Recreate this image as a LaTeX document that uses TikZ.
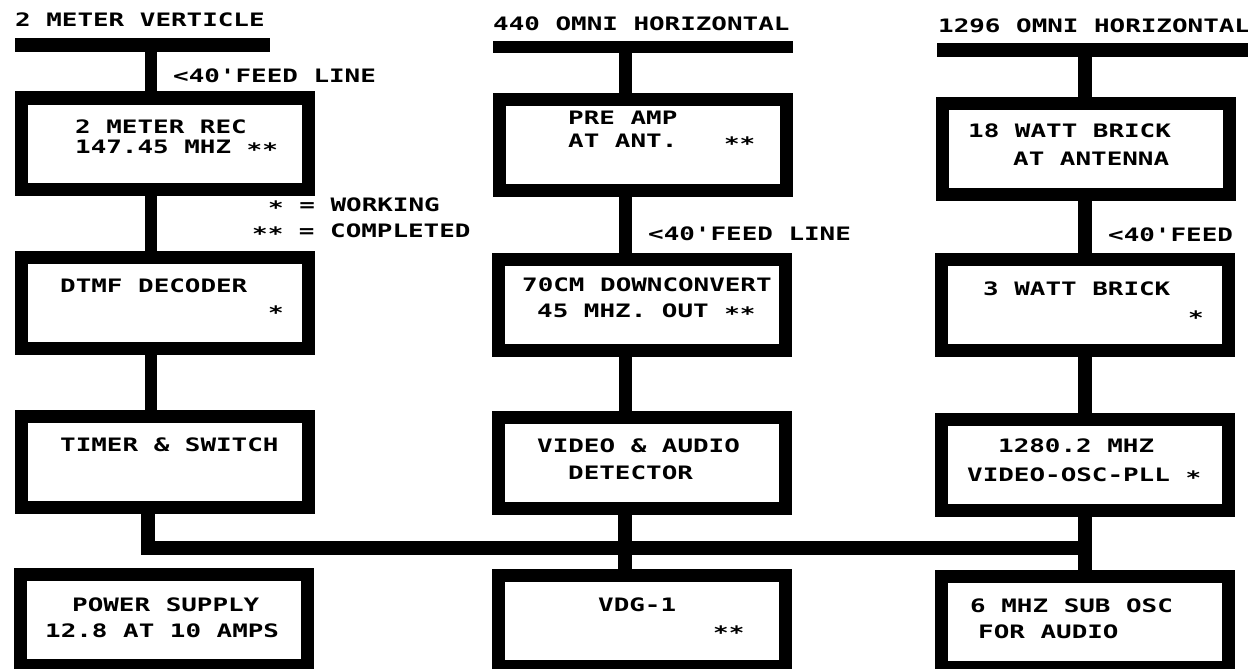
\documentclass[tikz,border=0pt]{standalone}
\usepackage{fontspec}
\newfontfamily\plotfont[FakeStretch=1.4]{DejaVu Sans Mono}
\usetikzlibrary{calc}
\newcommand{\stq}{\raisebox{-3.5pt}{*}}
\begin{document}
\frenchspacing
\begin{tikzpicture}[x=1pt,y=-1pt,
  blk/.style={draw=black, line width=13pt, minimum width=287pt, minimum height=91pt, inner sep=0pt, fill=white},
  lbl/.style={anchor=base west, inner sep=0pt, font=\plotfont\bfseries\fontsize{18.5}{22}\selectfont},
  wire/.style={line width=12pt, draw=black},
  bar/.style={line width=13pt, draw=black}]
\useasboundingbox[fill=white] (0,0) rectangle (1248,669);

% boxes
\node[blk] (L1) at (165,143.5) {};
\node[blk] (L2) at (165,302.5) {};
\node[blk] (L3) at (165,461.5) {};
\node[blk] (L4) at (164,620) {};
\node[blk] (M1) at (642.5,145) {};
\node[blk] (M2) at (642,304.5) {};
\node[blk] (M3) at (641.5,462.5) {};
\node[blk] (M4) at (641.5,621) {};
\node[blk] (R1) at (1085.5,148.5) {};
\node[blk] (R2) at (1085,305) {};
\node[blk] (R3) at (1085,464.5) {};
\node[blk] (R4) at (1085,622) {};

% column axes
\coordinate (cL) at (151,0);
\coordinate (cM) at (625,0);
\coordinate (cR) at (1085,0);

% antenna bars
\coordinate (aL1) at (15,45);   \coordinate (aL2) at (270,45);
\coordinate (aM1) at (493,47.5); \coordinate (aM2) at (793,47.5);
\coordinate (aR1) at (937,50);  \coordinate (aR2) at (1252,50);
\draw[bar, line width=14pt] (aL1) -- (aL2);
\draw[bar, line width=12pt] (aM1) -- (aM2);
\draw[bar, line width=14pt] (aR1) -- (aR2);

% vertical connectors
\draw[wire] (cL |- aL1) -- (L1.north -| cL);
\draw[wire] (L1.south -| cL) -- (L2.north -| cL);
\draw[wire] (L2.south -| cL) -- (L3.north -| cL);
\draw[wire, line width=13pt] (cM |- aM1) -- (M1.north -| cM);
\draw[wire, line width=13pt] (M1.south -| cM) -- (M2.north -| cM);
\draw[wire, line width=13pt] (M2.south -| cM) -- (M3.north -| cM);
\draw[wire, line width=14pt] (M3.south -| cM) -- (M4.north -| cM);
\draw[wire, line width=14pt] (cR |- aR1) -- (R1.north -| cR);
\draw[wire, line width=14pt] (R1.south -| cR) -- (R2.north -| cR);
\draw[wire, line width=14pt] (R2.south -| cR) -- (R3.north -| cR);
\draw[wire, line width=14pt] (R3.south -| cR) -- (R4.north -| cR);

% bus
\coordinate (bus) at (147.5,548);
\draw[line width=14pt, line join=miter] (L3.south -| bus) -- (bus) -- (bus -| cR);

% top labels
\node[lbl] (tL) at (15,27) {2 METER VERTICLE};
\node[lbl] (tM) at (493,31) {440 OMNI HORIZONTAL};
\node[lbl] (tR) at (938,33) {1296 OMNI HORIZONTAL};
\node[lbl] (fL) at (173,82) {<40'FEED LINE};
\node[lbl] (fM) at (648,240) {<40'FEED LINE};
\node[lbl] (fR) at (1108,241) {<40'FEED};
\node[lbl] (lg1) at (268,211) {\stq{} = WORKING};
\node[lbl] (lg2) at (252,237) {\stq\stq{} = COMPLETED};

% box texts
\node[lbl] (L1a) at (75,133) {2 METER REC};
\node[lbl] (L1b) at (75,153) {147.45 MHZ \stq\stq};
\node[lbl] (M1a) at (568,124) {PRE AMP};
\node[lbl] (M1b) at (568,147) {AT ANT.~~~\stq\stq};
\node[lbl] (R1a) at (968,137) {18 WATT BRICK};
\node[lbl] (R1b) at (1013,165) {AT ANTENNA};

\node[lbl] (L2a) at (60,292) {DTMF DECODER};
\node[lbl] (L2b) at (268,316) {\stq};
\node[lbl] (M2a) at (522,291) {70CM DOWNCONVERT};
\node[lbl] (M2b) at (537,317) {45 MHZ. OUT \stq\stq};
\node[lbl] (R2a) at (983,295) {3 WATT BRICK};
\node[lbl] (R2b) at (1188,321) {\stq};

\node[lbl] (L3a) at (60,451) {TIMER \& SWITCH};
\node[lbl] (M3a) at (537,452) {VIDEO \& AUDIO};
\node[lbl] (M3b) at (568,479) {DETECTOR};
\node[lbl] (R3a) at (998,452) {1280.2 MHZ};
\node[lbl] (R3b) at (967,481) {VIDEO-OSC-PLL \stq};

\node[lbl] (L4a) at (72,611) {POWER SUPPLY};
\node[lbl] (L4b) at (45,637) {12.8 AT 10 AMPS};
\node[lbl] (M4a) at (598,611) {VDG-1};
\node[lbl] (M4b) at (713,636) {\stq\stq};
\node[lbl] (R4a) at (970,612) {6 MHZ SUB OSC};
\node[lbl] (R4b) at (978,638) {FOR AUDIO};
\end{tikzpicture}
\end{document}
